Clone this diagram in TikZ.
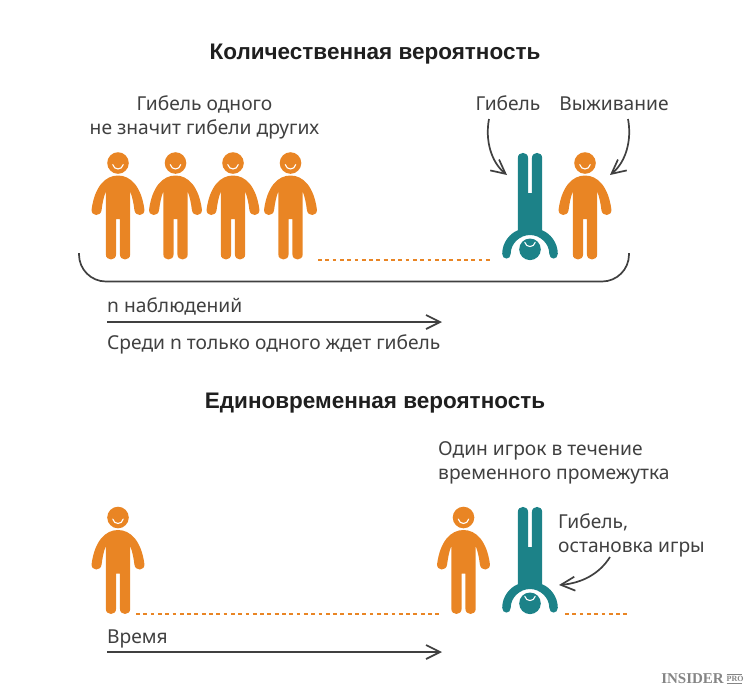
\documentclass[tikz,border=0pt]{standalone}
\usepackage{fontspec}
\setmainfont{Noto Sans}
\newfontfamily\titlefont{Liberation Sans}
\newfontfamily\logofont{Liberation Serif}
\usetikzlibrary{arrows.meta}
\definecolor{figorange}{HTML}{E98524}
\definecolor{figteal}{HTML}{1C8288}
\definecolor{inkgray}{HTML}{404040}
\tikzset{
  titletext/.style={font=\fontsize{22.5}{26}\titlefont\bfseries, text=black!88, inner sep=0pt, anchor=base},
  bodytext/.style={font=\fontsize{19.2}{24}\selectfont, text=inkgray, inner sep=0pt},
  leftline/.style={bodytext, anchor=base west},
  pointer/.style={draw=inkgray, line width=1.7pt, -{Straight Barb[length=14pt,width=14pt]}},
  ground/.style={draw=figorange, line width=1.8pt, dash pattern=on 3.8pt off 3.5pt},
  person/.pic={
    \fill[figorange] (0,0) circle (10.8pt);
    \draw[white, line width=1.1pt, line cap=round] (-5.2,1.6) .. controls (-4,7.4) and (4,7.4) .. (5.2,1.6);
    \fill[figorange] (0,12.5) .. controls (13,12.5) and (23.4,24) .. (26.4,46.5)
      .. controls (27,53.5) and (17.2,54) .. (16.4,47) .. controls (15.4,39) and (14,33) .. (12.2,28.5)
      -- (12.2,91.2) .. controls (12.2,98.2) and (1.9,98.2) .. (1.9,91.2) -- (1.9,56) -- (-1.9,56) -- (-1.9,91.2)
      .. controls (-1.9,98.2) and (-12.2,98.2) .. (-12.2,91.2) -- (-12.2,28.5)
      .. controls (-14,33) and (-15.4,39) .. (-16.4,47) .. controls (-17.2,54) and (-27,53.5) .. (-26.4,46.5)
      .. controls (-23.4,24) and (-13,12.5) .. (0,12.5) -- cycle;
  },
  deadplayer/.pic={
    \fill[figteal] (0,0) circle (10.8pt);
    \draw[white, line width=1.1pt, line cap=round] (-5.2,-7) .. controls (-4,-1.4) and (4,-1.4) .. (5.2,-7);
    \fill[figteal] (-1.9,-56.3) -- (-1.9,-91) .. controls (-1.9,-98.2) and (-12.2,-98.2) .. (-12.2,-91) -- (-12.2,-19)
      .. controls (-20,-16) and (-27.8,-7) .. (-27.8,4.5) .. controls (-27.8,10.8) and (-19.3,10.8) .. (-19.3,4.5)
      .. controls (-19.3,-6) and (-10,-14.3) .. (0,-14.3) .. controls (10,-14.3) and (19.3,-6) .. (19.3,4.5)
      .. controls (19.3,10.8) and (27.8,10.8) .. (27.8,4.5) .. controls (27.8,-7) and (20,-16) .. (12.2,-19)
      -- (12.2,-91) .. controls (12.2,-98.2) and (1.9,-98.2) .. (1.9,-91) -- (1.9,-56.3) -- cycle;
  }
}
\begin{document}
\begin{tikzpicture}[x=1pt, y=-1pt]
  \useasboundingbox (0,0) rectangle (750,697);

  % upper part
  \node[titletext] (titlecount) at (375,59) {Количественная вероятность};
  \node[bodytext, align=center] (lblone) at (204.5,117) {Гибель одного\\не значит гибели других};
  \node[bodytext, anchor=base] (lbldeath) at (508,110) {Гибель};
  \node[bodytext, anchor=base] (lbllive) at (614,110) {Выживание};

  \pic (p1) at (118,163) {person};
  \pic (p2) at (175.5,163) {person};
  \pic (p3) at (233,163) {person};
  \pic (p4) at (290.5,163) {person};
  \pic (dead1) at (530,249.3) {deadplayer};
  \pic (p5) at (585,163) {person};

  \coordinate (bl) at (79,253);
  \coordinate (bb) at (354,281.5);
  \coordinate (br) at (629,253);
  \draw[draw=inkgray, line width=1.7pt, rounded corners=27pt] (bl) |- (bb) -| (br);

  \coordinate (d1a) at (318,260);
  \coordinate (d1b) at (491,260);
  \draw[ground] (d1a) -- (d1b);

  \coordinate (fromdeath) at (489,119);
  \coordinate (todeath) at (507,175);
  \draw[pointer] (fromdeath) .. controls (485,140) and (491,162) .. (todeath);
  \coordinate (fromlive) at (628,119);
  \coordinate (tolive) at (610,175);
  \draw[pointer] (fromlive) .. controls (632,140) and (626,162) .. (tolive);

  \node[leftline] (lbln) at (107,312) {n наблюдений};
  \coordinate (a1a) at (107,322);
  \coordinate (a1b) at (442,322);
  \draw[pointer] (a1a) -- (a1b);
  \node[leftline] (lblamong) at (107,349) {Среди n только одного ждет гибель};

  % lower part
  \node[titletext] (titlesame) at (375,408) {Единовременная вероятность};
  \node[bodytext, align=left, anchor=west] (lblplayer) at (438,463) {Один игрок в течение\\временного промежутка};

  \pic (p6) at (118,517.5) {person};
  \pic (p7) at (463.5,517.5) {person};
  \pic (dead2) at (530,603.3) {deadplayer};

  \node[bodytext, align=left, anchor=west] (lblstop) at (558,535.5) {Гибель,\\остановка игры};
  \coordinate (fromstop) at (610,557);
  \coordinate (tostop) at (559,585);
  \draw[pointer] (fromstop) .. controls (600,573) and (583,583) .. (tostop);

  \coordinate (d2a) at (136,614);
  \coordinate (d2b) at (441,614);
  \draw[ground] (d2a) -- (d2b);
  \coordinate (d3a) at (565,614);
  \coordinate (d3b) at (630,614);
  \draw[ground] (d3a) -- (d3b);

  \node[leftline] (lbltime) at (107,643) {Время};
  \coordinate (a2a) at (107,652);
  \coordinate (a2b) at (442,652);
  \draw[pointer] (a2a) -- (a2b);

  \node[inner sep=0pt, anchor=base east, text=black!48, font=\fontsize{15}{15}\logofont\bfseries] (logo) at (724,683) {INSIDER};
  \node[inner sep=0pt, anchor=base west, text=black!48, font=\fontsize{8}{8}\logofont\bfseries] (logopro) at (726.5,681.5) {PRO};
  \coordinate (protl) at (726.5,674.5);
  \coordinate (protr) at (742,674.5);
  \coordinate (probl) at (726.5,683);
  \coordinate (probr) at (742,683);
  \draw[black!48, line width=0.6pt] (protl) -- (protr);
  \draw[black!48, line width=0.6pt] (probl) -- (probr);
\end{tikzpicture}
\end{document}
